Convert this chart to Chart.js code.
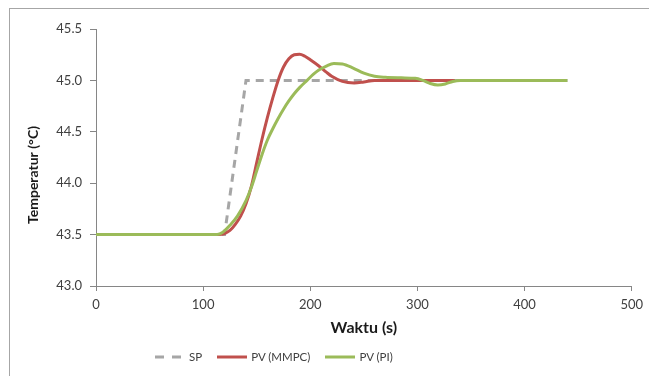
<!DOCTYPE html>
<html>
<head>
<meta charset="utf-8">
<script src="https://cdn.jsdelivr.net/npm/chart.js@4"></script>
<style>
  html, body { margin: 0; padding: 0; background: #fff; }
  #wrap { position: relative; width: 649px; height: 376px; overflow: hidden; }
  #frame { position: absolute; left: 9px; top: 8px; width: 800px; height: 500px;
           border-left: 1px solid #a6a6a6; border-top: 1px solid #a6a6a6; }
  #chart { position: absolute; left: 0; top: 0; }
  #legend { position: absolute; left: 155px; top: 350px; display: flex; align-items: center;
            font: 11.5px Lato, sans-serif; color: #404040; }
  .item { display: flex; align-items: center; margin-right: 15px; }
  .item svg { margin-right: 4px; }
</style>
</head>
<body>
<div id="wrap">
  <div id="frame"></div>
  <canvas id="chart" width="649" height="376"></canvas>
  <div id="legend"></div>
</div>
<script>
// setpoint
const spTime = [0, 120, 140, 440];
const spTemp = [43.5, 43.5, 45.0, 45.0];

// PV with MMPC controller
const mmpcTime = [0, 100, 115, 120, 125, 130, 135, 140, 145, 150, 155, 160, 165, 170, 175, 180, 185, 190, 195, 200, 208, 215, 220, 230, 241, 250, 260, 280, 300, 320, 335];
const mmpcTemp = [43.5, 43.5, 43.5, 43.51, 43.54, 43.6, 43.68, 43.8, 43.97, 44.2, 44.43, 44.64, 44.83, 45.0, 45.13, 45.21, 45.25, 45.255, 45.235, 45.2, 45.14, 45.08, 45.04, 44.99, 44.975, 44.985, 45.0, 45.0, 45.0, 45.0, 45.0];

// PV with PI controller
const piTime = [0, 100, 113, 118, 125, 132, 140, 145, 150, 155, 160, 165, 170, 175, 180, 185, 190, 197, 203, 208, 215, 222, 230, 240, 250, 260, 270, 285, 298, 305, 312, 319, 326, 333, 340, 360, 440];
const piTemp = [43.5, 43.5, 43.5, 43.52, 43.59, 43.68, 43.83, 43.96, 44.12, 44.28, 44.42, 44.53, 44.63, 44.72, 44.8, 44.87, 44.93, 45.0, 45.06, 45.1, 45.14, 45.165, 45.16, 45.12, 45.07, 45.04, 45.03, 45.025, 45.02, 45.0, 44.97, 44.955, 44.965, 44.99, 45.0, 45.0, 45.0];

const xTicks = [0, 100, 200, 300, 400, 500];
const yTicks = [43.0, 43.5, 44.0, 44.5, 45.0, 45.5];

const xTitle = 'Waktu (s)';
const yTitle = 'Temperatur (°C)';

const toPoints = (xs, ys) => xs.map((x, i) => ({ x: x, y: ys[i] }));

const axisColor = '#868686';
const tickFont = { family: 'Lato', size: 13 };

const yTitlePlugin = {
  id: 'yTitle',
  afterDraw(chart) {
    const ctx = chart.ctx;
    ctx.save();
    ctx.translate(33, 175);
    ctx.rotate(-Math.PI / 2);
    ctx.font = 'bold 14px Lato';
    ctx.fillStyle = '#1a1a1a';
    ctx.textAlign = 'center';
    ctx.textBaseline = 'middle';
    ctx.fillText(yTitle, 0, 0);
    ctx.restore();
  }
};

const chart = new Chart(document.getElementById('chart').getContext('2d'), {
  type: 'line',
  data: {
    datasets: [
      {
        label: 'SP',
        data: toPoints(spTime, spTemp),
        borderColor: '#a6a6a6',
        borderWidth: 3,
        borderDash: [8, 6],
        pointRadius: 0,
        tension: 0,
        order: 3
      },
      {
        label: 'PV (MMPC)',
        data: toPoints(mmpcTime, mmpcTemp),
        borderColor: '#c0504d',
        borderWidth: 3,
        pointRadius: 0,
        cubicInterpolationMode: 'monotone',
        order: 2
      },
      {
        label: 'PV (PI)',
        data: toPoints(piTime, piTemp),
        borderColor: '#9bbb59',
        borderWidth: 3,
        pointRadius: 0,
        cubicInterpolationMode: 'monotone',
        order: 1
      }
    ]
  },
  options: {
    responsive: false,
    animation: false,
    devicePixelRatio: 1,
    layout: { padding: { left: 0, right: 17, top: 29, bottom: 0 } },
    plugins: {
      legend: { display: false },
      tooltip: { enabled: false }
    },
    scales: {
      x: {
        type: 'linear',
        min: 0,
        max: 500,
        afterBuildTicks: (s) => { s.ticks = xTicks.map(v => ({ value: v })); },
        afterFit: (s) => { s.height = 90; },
        grid: { drawOnChartArea: false, tickLength: 5, color: axisColor },
        border: { color: axisColor, width: 1 },
        ticks: { font: tickFont, color: '#404040', padding: 6, maxRotation: 0 },
        title: {
          display: true, text: xTitle, color: '#1a1a1a',
          font: { family: 'Lato', size: 16, weight: 'bold', lineHeight: 1.2 },
          padding: { top: 0, bottom: 39 }
        }
      },
      y: {
        min: 43,
        max: 45.5,
        afterBuildTicks: (s) => { s.ticks = yTicks.map(v => ({ value: v })); },
        afterFit: (s) => { s.width = 96; },
        grid: { drawOnChartArea: false, tickLength: 6, color: axisColor },
        border: { color: axisColor, width: 1 },
        ticks: { font: tickFont, color: '#404040', padding: 8, callback: (v) => Number(v).toFixed(1) }
      }
    }
  },
  plugins: [yTitlePlugin]
});

// legend built from the datasets
const legendEl = document.getElementById('legend');
chart.data.datasets.forEach(ds => {
  const item = document.createElement('div');
  item.className = 'item';
  const dash = ds.borderDash ? 'stroke-dasharray="9 8"' : '';
  item.innerHTML = '<svg width="30" height="6"><line x1="0" y1="3" x2="30" y2="3" stroke="' +
    ds.borderColor + '" stroke-width="3" ' + dash + '/></svg><span>' + ds.label + '</span>';
  legendEl.appendChild(item);
});
</script>
</body>
</html>
